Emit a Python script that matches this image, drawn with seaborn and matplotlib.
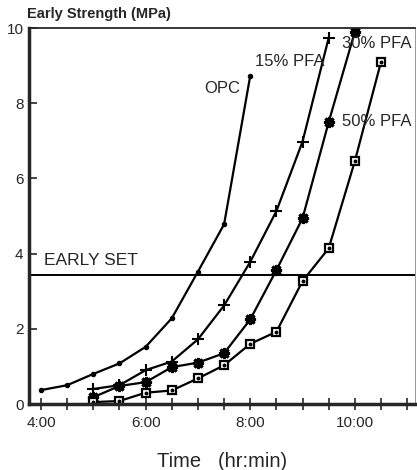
import matplotlib
matplotlib.use("Agg")
import matplotlib.pyplot as plt
import seaborn as sns
import pandas as pd
from matplotlib.ticker import MultipleLocator, FixedLocator

# ---- data (time in hours, strength in MPa) ----
opc_time = [4.0, 4.5, 5.0, 5.5, 6.0, 6.5, 7.0, 7.5, 8.0]
opc_strength = [0.37, 0.5, 0.8, 1.08, 1.52, 2.28, 3.52, 4.78, 8.73]

pfa15_time = [5.0, 5.5, 6.0, 6.5, 7.0, 7.5, 8.0, 8.5, 9.0, 9.5]
pfa15_strength = [0.4, 0.5, 0.9, 1.13, 1.72, 2.62, 3.78, 5.13, 6.98, 9.74]

pfa30_time = [5.0, 5.5, 6.0, 6.5, 7.0, 7.5, 8.0, 8.5, 9.0, 9.5, 10.0]
pfa30_strength = [0.18, 0.48, 0.58, 0.98, 1.1, 1.35, 2.25, 3.56, 4.94, 7.5, 9.9]

pfa50_time = [5.0, 5.5, 6.0, 6.5, 7.0, 7.5, 8.0, 8.5, 9.0, 9.5, 10.0, 10.5]
pfa50_strength = [0.05, 0.08, 0.3, 0.36, 0.68, 1.03, 1.6, 1.92, 3.27, 4.14, 6.46, 9.1]

early_set = 3.43

series_names = ["OPC", "15% PFA", "30% PFA", "50% PFA"]
label_pos_x = [7.13, 8.09, 9.75, 9.75]
label_pos_y = [8.4, 9.12, 9.6, 7.52]
x_tick_values = [4, 6, 8, 10]
x_tick_labels = ["4:00", "6:00", "8:00", "10:00"]
y_tick_values = [0, 2, 4, 6, 8, 10]

frames = []
for name, t, s in [("OPC", opc_time, opc_strength),
                   ("15% PFA", pfa15_time, pfa15_strength),
                   ("30% PFA", pfa30_time, pfa30_strength),
                   ("50% PFA", pfa50_time, pfa50_strength)]:
    frames.append(pd.DataFrame({"time": t, "strength": s, "series": name}))
df = pd.concat(frames, ignore_index=True)

sns.set_style("ticks")
plt.rcParams["font.family"] = ["Liberation Sans", "DejaVu Sans"]

fig = plt.figure(figsize=(4.17, 4.70), dpi=100)
ax = fig.add_axes([29 / 417, 1 - 404 / 470, (415 - 29) / 417, (404 - 28) / 470])

styles = {
    "OPC": dict(marker="o", markersize=3.2, markerfacecolor="black", markeredgecolor="black"),
    "15% PFA": dict(marker="+", markersize=8.5, markeredgewidth=1.5, markeredgecolor="black"),
    "30% PFA": dict(marker=(8, 2, 0), markersize=8, markeredgewidth=2.2, markeredgecolor="black"),
    "50% PFA": dict(marker="s", markersize=6.2, markerfacecolor="white", markeredgewidth=1.6,
                    markeredgecolor="black"),
}

for name in series_names:
    sub = df[df["series"] == name]
    sns.lineplot(data=sub, x="time", y="strength", ax=ax, color="black", linewidth=1.6,
                 estimator=None, sort=False, **styles[name])
    if name == "50% PFA":
        ax.plot(sub["time"], sub["strength"], linestyle="none", marker="o", markersize=1.8,
                color="black")

ax.axhline(early_set, color="black", linewidth=1.4)
ax.text(4.05, early_set + 0.18, "EARLY SET", fontsize=12.5, ha="left", va="bottom")

for name, lx, ly in zip(series_names, label_pos_x, label_pos_y):
    ax.text(lx, ly, name, fontsize=12, ha="left", va="center")

ax.set_xlim(3.77, 11.15)
ax.set_ylim(0, 10)
ax.xaxis.set_major_locator(FixedLocator(x_tick_values))
ax.set_xticklabels(x_tick_labels)
ax.xaxis.set_minor_locator(MultipleLocator(0.5))
ax.set_yticks(y_tick_values)
ax.tick_params(axis="x", which="both", direction="inout", length=9, width=1.2,
               labelsize=11, pad=4)
ax.tick_params(axis="y", which="both", direction="in", length=6, width=1.2,
               labelsize=11, pad=4)

for side in ["left", "bottom"]:
    ax.spines[side].set_linewidth(2.5)
ax.spines["top"].set_linewidth(1.3)
ax.spines["right"].set_linewidth(0.6)
ax.spines["right"].set_color("#888888")

ax.set_xlabel("Time   (hr:min)", fontsize=14.5, labelpad=16)
ax.set_ylabel("")
fig.text(27 / 417, 1 - 14 / 470, "Early Strength (MPa)", fontsize=10.5,
         fontweight="bold", ha="left", va="center")

fig.savefig("out.png", dpi=100)
